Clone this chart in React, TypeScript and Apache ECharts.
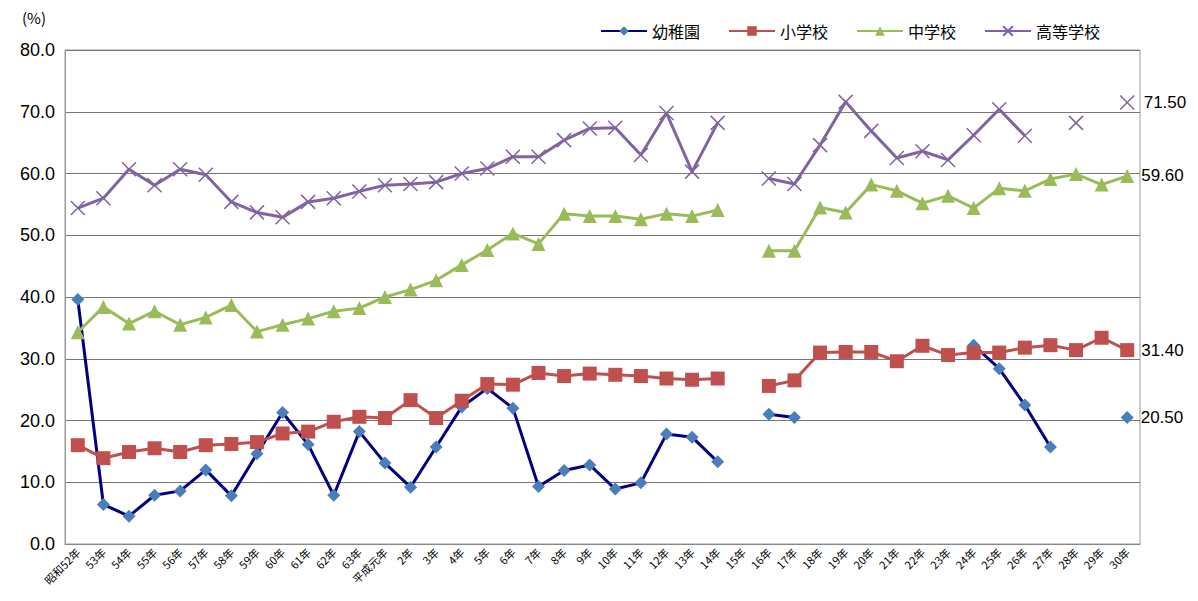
import React, { useEffect, useRef } from 'react';
import * as echarts from 'echarts';

const years: string[] = [
  '昭和52年', '53年', '54年', '55年', '56年', '57年', '58年', '59年', '60年', '61年', '62年', '63年',
  '平成元年', '2年', '3年', '4年', '5年', '6年', '7年', '8年', '9年', '10年', '11年', '12年', '13年', '14年',
  '15年', '16年', '17年', '18年', '19年', '20年', '21年', '22年', '23年', '24年', '25年', '26年', '27年',
  '28年', '29年', '30年',
];

type V = number | null;

const kindergarten: V[] = [
  39.6, 6.4, 4.5, 7.9, 8.6, 12.0, 7.8, 14.6, 21.3, 16.1, 7.9, 18.2, 13.1, 9.2, 15.7,
  22.2, 25.2, 22.0, 9.3, 11.9, 12.8, 8.9, 9.9, 17.8, 17.3, 13.3,
  null, 21.0, 20.5, null, null, null, null, null, null, 32.2, 28.4, 22.5, 15.7, null, null, 20.5,
];
const elementary: V[] = [
  16.0, 13.9, 14.9, 15.5, 14.9, 16.0, 16.2, 16.5, 17.9, 18.2, 19.8, 20.6, 20.4, 23.3, 20.4,
  23.2, 25.9, 25.8, 27.7, 27.2, 27.6, 27.4, 27.2, 26.8, 26.6, 26.8,
  null, 25.6, 26.5, 31.0, 31.1, 31.1, 29.6, 32.1, 30.6, 31.0, 31.0, 31.8, 32.2, 31.4, 33.4, 31.4,
];
const juniorHigh: V[] = [
  34.3, 38.4, 35.7, 37.7, 35.5, 36.7, 38.7, 34.4, 35.5, 36.5, 37.7, 38.2, 40.0, 41.2, 42.7,
  45.2, 47.6, 50.3, 48.6, 53.5, 53.1, 53.1, 52.6, 53.5, 53.1, 54.1,
  null, 47.5, 47.5, 54.5, 53.7, 58.2, 57.2, 55.2, 56.4, 54.4, 57.6, 57.2, 59.1, 59.9, 58.2, 59.6,
];
const highSchool: V[] = [
  54.4, 56.0, 60.7, 58.1, 60.7, 59.8, 55.4, 53.7, 52.9, 55.4, 56.0, 57.1, 58.1, 58.3, 58.6,
  60.0, 60.8, 62.7, 62.7, 65.4, 67.3, 67.4, 63.0, 69.8, 60.3, 68.2,
  null, 59.2, 58.3, 64.6, 71.6, 66.9, 62.5, 63.6, 62.2, 66.2, 70.4, 66.1, null, 68.2, null, 71.5,
];
const endLabels = ['20.50', '31.40', '59.60', '71.50'];

const withEndLabel = (arr: V[], text: string) =>
  arr.map((v, i) =>
    i === arr.length - 1
      ? {
          value: v,
          label: {
            show: true,
            position: 'right',
            distance: 7,
            formatter: text,
            fontSize: 17,
            color: '#000',
            fontFamily: 'Liberation Sans',
          },
        }
      : v,
  );

const App: React.FC = () => {
  const chartRef = useRef<HTMLDivElement>(null);

  useEffect(() => {
    if (!chartRef.current) return;
    const chart = echarts.init(chartRef.current, undefined, { renderer: 'svg' });
    const mk = (name: string, data: V[], idx: number, line: string, marker: string, symbol: string, size: number) => ({
      name,
      type: 'line',
      data: withEndLabel(data, endLabels[idx]),
      symbol,
      symbolSize: size,
      connectNulls: false,
      lineStyle: { color: line, width: 3 },
      itemStyle: { color: marker },
      z: 2 + idx,
    });
    chart.setOption({
      animation: false,
      textStyle: { fontFamily: 'Liberation Sans' },
      legend: {
        top: 10,
        right: 93,
        itemWidth: 46,
        itemHeight: 12,
        itemGap: 28,
        textStyle: { fontSize: 16, color: '#000', fontFamily: 'Noto Sans CJK JP' },
        data: ['幼稚園', '小学校', '中学校', '高等学校'],
      },
      graphic: [
        { type: 'text', left: 14, top: 2, style: { text: '(%)', fontSize: 15, fill: '#000', fontFamily: 'Noto Sans CJK JP' } },
      ],
      grid: { left: 57, right: 58, top: 42, bottom: 49, show: true, borderColor: '#999', borderWidth: 1 },
      xAxis: {
        type: 'category',
        data: years,
        boundaryGap: true,
        axisLine: { lineStyle: { color: '#888' } },
        axisTick: { show: false },
        axisLabel: { interval: 0, rotate: 45, fontSize: 11, color: '#000', margin: 6, fontFamily: 'Noto Sans CJK JP' },
      },
      yAxis: {
        type: 'value',
        min: 0,
        max: 80,
        interval: 10,
        axisLine: { show: true, lineStyle: { color: '#999' } },
        axisTick: { show: false },
        axisLabel: { formatter: (v: number) => v.toFixed(1), fontSize: 18, color: '#000', margin: 10 },
        splitLine: { lineStyle: { color: '#777' } },
      },
      series: [
        mk('幼稚園', kindergarten, 0, '#000080', '#4A7EBB', 'diamond', 13),
        mk('小学校', elementary, 1, '#C0504D', '#C0504D', 'rect', 14),
        mk('中学校', juniorHigh, 2, '#9BBB59', '#9BBB59', 'triangle', 14),
        {
          ...mk('高等学校', highSchool, 3, '#8064A2', '#8064A2', 'path://M0,0L2,2M2,0L0,2', 14),
          itemStyle: { color: 'none', borderColor: '#8064A2', borderWidth: 1.5 },
        },
      ],
    });
    return () => chart.dispose();
  }, []);

  return <div ref={chartRef} style={{ width: 1190, height: 585 }} />;
};

export default App;
